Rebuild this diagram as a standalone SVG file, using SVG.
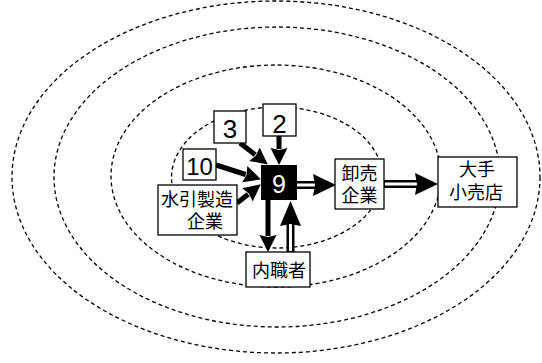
<svg xmlns="http://www.w3.org/2000/svg" width="542" height="363" viewBox="0 0 542 363">
<style>
.ring{fill:none;stroke:#000;stroke-width:1.3;stroke-dasharray:4 3}
.box{fill:#fff;stroke:#000;stroke-width:1.3}
.num{font-family:"Liberation Sans",Arial,sans-serif;font-size:26px;text-anchor:middle;fill:#000}
.jp{font-family:"Noto Sans CJK JP","Noto Sans CJK SC",sans-serif;font-size:18px;text-anchor:middle;fill:#000}
.shaft{stroke:#000;stroke-width:5;fill:none}
.dbl{stroke:#000;stroke-width:8;fill:none}
.dblin{stroke:#fff;stroke-width:3;fill:none}
.head{fill:#000}
</style>
<defs>
<marker id="ah" markerUnits="userSpaceOnUse" viewBox="0 -9 17 18" markerWidth="17" markerHeight="18" refX="1" refY="0" orient="auto">
<path d="M0,-8.5 L17,0 L0,8.5 L2,0 z" fill="#000"/>
</marker>
</defs>
<g id="rings">
<ellipse class="ring" cx="276" cy="177" rx="264" ry="176"/>
<ellipse class="ring" cx="277" cy="177" rx="223" ry="150"/>
<ellipse class="ring" cx="276" cy="176" rx="165" ry="111"/>
<ellipse class="ring" cx="277" cy="177.5" rx="105.5" ry="70.5"/>
</g>
<g id="connectors">
<line class="shaft" x1="279" y1="136" x2="279" y2="149" marker-end="url(#ah)"/>
<line class="shaft" x1="240" y1="143" x2="255.2" y2="154.8" marker-end="url(#ah)"/>
<line class="shaft" x1="216" y1="165" x2="245.7" y2="174.5" marker-end="url(#ah)"/>
<line class="shaft" x1="237" y1="203" x2="248.2" y2="194.2" marker-end="url(#ah)"/>
<line class="shaft" x1="268" y1="200" x2="268" y2="236" marker-end="url(#ah)"/>
<line class="dbl" x1="297" y1="185" x2="315" y2="185"/>
<line class="dblin" x1="296" y1="185" x2="316" y2="185"/>
<polygon class="head" points="313,174 336,185 313,196 315,185"/>
<line class="dbl" x1="384" y1="184" x2="417" y2="184"/>
<line class="dblin" x1="385" y1="184" x2="418" y2="184"/>
<polygon class="head" points="415,173 438,184 415,195 417,184"/>
<line class="dbl" x1="290.5" y1="252" x2="290.5" y2="224"/>
<line class="dblin" x1="290.5" y1="251" x2="290.5" y2="223"/>
<polygon class="head" points="280,226 290.5,201 301,226 290.5,224"/>
</g>
<g id="n9">
<rect x="261" y="165" width="36" height="35" fill="#000"/>
<text class="num" x="279" y="193" style="fill:#fff;font-size:25px">9</text>
</g>
<g id="n2">
<rect class="box" x="263" y="104" width="33" height="32"/>
<text class="num" x="279.5" y="133">2</text>
</g>
<g id="n3">
<rect class="box" x="214" y="111" width="32" height="32"/>
<text class="num" x="230" y="138">3</text>
</g>
<g id="n10">
<rect class="box" x="183" y="149" width="33" height="31"/>
<text class="num" x="199.5" y="175" style="font-size:24px">10</text>
</g>
<g id="mizuhiki">
<rect class="box" x="158" y="185" width="79" height="50"/>
<text class="jp" x="197" y="206">水引製造</text>
<text class="jp" x="205" y="228">企業</text>
</g>
<g id="oroshi">
<rect class="box" x="335" y="159" width="49" height="50"/>
<text class="jp" x="359.5" y="180">卸売</text>
<text class="jp" x="359.5" y="202">企業</text>
</g>
<g id="ogouri">
<rect class="box" x="438" y="157" width="79" height="50"/>
<text class="jp" x="477" y="176">大手</text>
<text class="jp" x="476" y="199">小売店</text>
</g>
<g id="naishoku">
<rect class="box" x="246" y="252" width="64" height="35"/>
<text class="jp" x="279" y="277">内職者</text>
</g>
</svg>
